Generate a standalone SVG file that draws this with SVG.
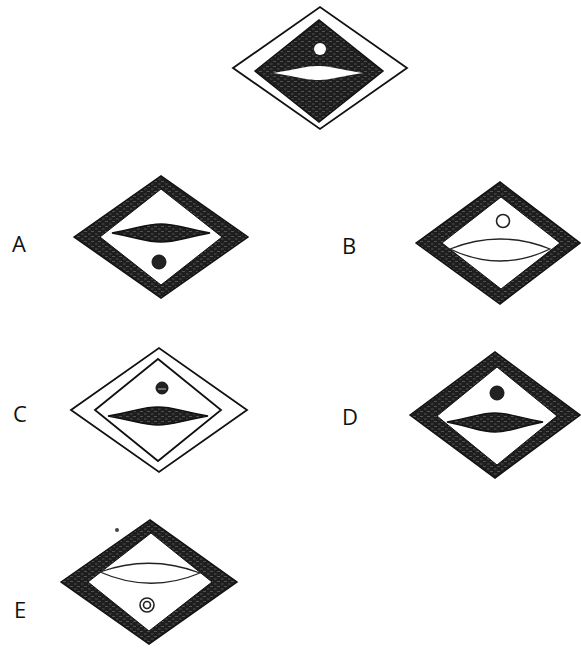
<svg xmlns="http://www.w3.org/2000/svg" width="581" height="651" viewBox="0 0 581 651">
<defs>
<pattern id="tex" width="7" height="5" patternUnits="userSpaceOnUse">
<rect width="7" height="5" fill="#1e1e1e"/>
<path d="M0,1.5h3M4,4h2.5" stroke="#6a6a6a" stroke-width="0.7"/>
</pattern>
<style>
.dark{fill:url(#tex);stroke:#111;stroke-width:1.5}
.hole{fill:#fff;stroke:#111;stroke-width:1}
.thin{fill:#fff;stroke:#111;stroke-width:1.8}
.line{fill:none;stroke:#222;stroke-width:1.3}
.dot{fill:#222;stroke:#111;stroke-width:1}
.ring{fill:#fff;stroke:#222;stroke-width:1.6}
.lbl{font-family:"Open Sans","Liberation Sans",sans-serif;font-size:22px;fill:#111}
</style>
</defs>
<rect width="581" height="651" fill="#fff"/>

<g id="question">
<polygon class="thin" points="233,68 320,7 407,68 320,129"/>
<polygon class="dark" points="255,71 319,20 383,71 319,122"/>
<path d="M273,73 C300,69 305,66 318,66 C331,66 336,69 363,73 C336,77 331,80 318,80 C305,80 300,77 273,73 Z" fill="#fff"/>
<circle cx="320" cy="49" r="6" fill="#fff"/>
</g>

<g id="optA">
<text class="lbl" x="12" y="252">A</text>
<polygon class="dark" points="74,237 161,176 248,237 161,298"/>
<polygon class="hole" points="100,237 161,189 222,237 161,285"/>
<path class="dark" d="M112,233 C141,227.6 146,224 161,224 C176,224 181,227.6 210,233 C181,238.4 176,242 161,242 C146,242 141,238.4 112,233 Z"/>
<circle class="dot" cx="159" cy="262" r="7"/>
</g>

<g id="optB">
<text class="lbl" x="342" y="254">B</text>
<polygon class="dark" points="416,243 500,182 580,243 500,304"/>
<polygon class="hole" points="442,243 501,197 560,243 501,289"/>
<path class="line" d="M450,249 Q500,229 550,249 Q500,273 450,249 Z"/>
<circle class="ring" cx="503" cy="221" r="6.5"/>
</g>

<g id="optC">
<text class="lbl" x="13" y="422">C</text>
<polygon class="thin" points="71,410 159,348 247,410 159,472"/>
<polygon class="thin" points="95,410 158,359 221,410 158,461"/>
<path class="dark" d="M108,416 C138,410.6 143,407 158,407 C173,407 178,410.6 208,416 C178,421.4 173,425 158,425 C143,425 138,421.4 108,416 Z"/>
<circle class="dot" cx="162" cy="388" r="6"/>
<path d="M158,389 h8" stroke="#bbb" stroke-width="1"/>
</g>

<g id="optD">
<text class="lbl" x="342" y="425">D</text>
<polygon class="dark" points="410,415 495,352 580,415 495,478"/>
<polygon class="hole" points="437,416 497,367 557,416 497,465"/>
<path class="dark" d="M447,422 C476,416.6 481,413 495,413 C509,413 514,416.6 543,422 C514,428 509,432 495,432 C481,432 476,428 447,422 Z"/>
<circle class="dot" cx="497" cy="393" r="7"/>
</g>

<g id="optE">
<text class="lbl" x="14" y="618">E</text>
<polygon class="dark" points="61,582 150,520 237,582 149,644"/>
<polygon class="hole" points="88,582 151,533 212,582 149,631"/>
<path class="line" d="M100,572 Q150,554 200,573 Q150,594 100,572 Z"/>
<circle class="ring" cx="147" cy="605" r="7"/>
<circle class="ring" cx="147" cy="605" r="3.5"/>
<circle cx="117" cy="530" r="2" fill="#444"/>
</g>
</svg>
